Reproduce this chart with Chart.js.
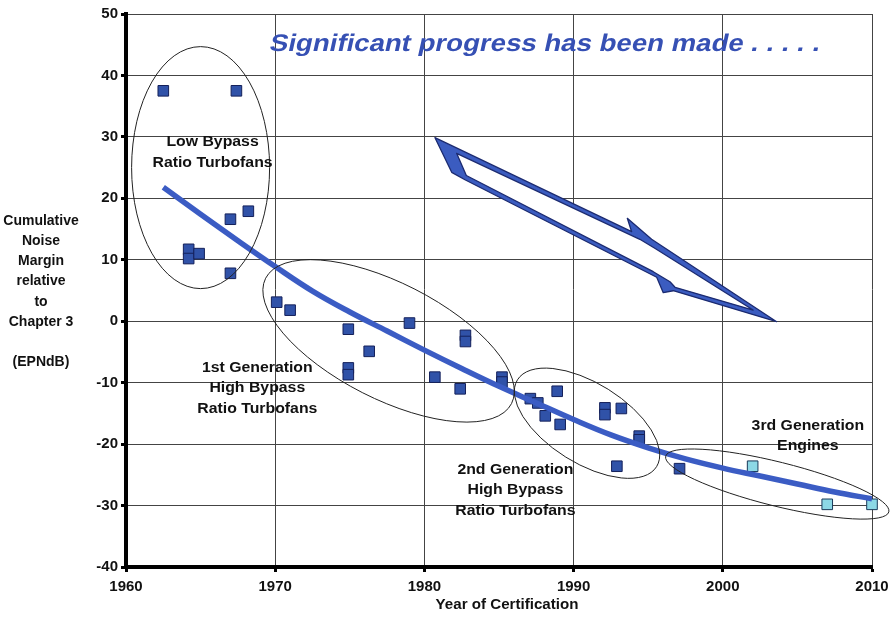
<!DOCTYPE html>
<html>
<head>
<meta charset="utf-8">
<script src="https://cdn.jsdelivr.net/npm/chart.js@4.4.1/dist/chart.umd.min.js"></script>
<style>
  html, body { margin: 0; padding: 0; background: #fff; }
  canvas { display: block; }
</style>
</head>
<body>
<canvas id="noiseChart" width="890" height="625"></canvas>
<script>
// certified engines, year vs cumulative margin (EPNdB)
const engineYears = [1962.5, 1967.4, 1967.0, 1968.2, 1964.2, 1964.2, 1964.9, 1967.0, 1970.1, 1971.0,
    1974.9, 1974.9, 1974.9, 1976.3, 1979.0, 1980.7, 1982.4, 1982.75, 1982.75, 1985.2, 1985.2,
    1987.1, 1987.6, 1988.1, 1988.9, 1989.1, 1992.1, 1992.1, 1993.2, 1994.4, 1994.4, 1992.9, 1997.1];
const engineMargins = [37.5, 37.5, 16.6, 17.9, 11.7, 10.2, 11.0, 7.8, 3.1, 1.8,
    -1.3, -7.6, -8.7, -4.9, -0.3, -9.1, -11.0, -2.3, -3.3, -9.1, -9.9,
    -12.6, -13.3, -15.4, -11.4, -16.8, -14.1, -15.2, -14.2, -18.7, -19.3, -23.6, -24.0];

// 3rd generation engines (light squares)
const newYears = [2002.0, 2007.0, 2010.0];
const newMargins = [-23.6, -29.8, -29.8];

// trend curve
const trendYears = [1962.5, 1965, 1967.5, 1970, 1972.5, 1975, 1977.5, 1980, 1982.5, 1985,
    1987.5, 1990, 1992.5, 1995, 1997.5, 2000, 2002.5, 2005, 2007.5, 2010];
const trendMargins = [21.8, 17.4, 13.1, 8.9, 4.9, 1.5, -1.6, -4.7, -7.7, -10.6,
    -13.3, -16.0, -18.5, -20.6, -22.4, -23.9, -25.2, -26.5, -27.8, -28.9];

const xTicks = [1960, 1970, 1980, 1990, 2000, 2010];
const yTicks = [-40, -30, -20, -10, 0, 10, 20, 30, 40, 50];

const yTitleLines = ["Cumulative", "Noise", "Margin", "relative", "to", "Chapter 3", "", "(EPNdB)"];
const xTitle = "Year of Certification";
const headline = "Significant progress has been made . . . . .";

const groupLabels = [
    { lines: ["Low Bypass", "Ratio Turbofans"], x: 1965.8, y: 27.4 },
    { lines: ["1st Generation", "High Bypass", "Ratio Turbofans"], x: 1968.8, y: -10.9 },
    { lines: ["2nd Generation", "High Bypass", "Ratio Turbofans"], x: 1986.1, y: -27.5 },
    { lines: ["3rd Generation", "Engines"], x: 2005.7, y: -18.7 }
];

// ellipses round each group: centre in data units, radii in px, rotation in degrees
const groupRings = [
    { x: 1965.0, y: 25.0, rx: 69, ry: 121, rot: 0 },
    { x: 1977.6, y: -3.2, rx: 138, ry: 58, rot: 27 },
    { x: 1990.9, y: -16.6, rx: 82, ry: 40, rot: 32 },
    { x: 2003.65, y: -26.5, rx: 115, ry: 22, rot: 14 }
];

// zigzag arrow outline (data units)
const arrowOuter = [[1980.71, 29.87], [1993.89, 14.57], [1993.60, 16.75], [1995.23, 13.33], [2003.61, -0.08],
    [1996.68, 4.96], [1996.01, 4.64], [1995.57, 7.15], [1982.72, 23.03], [1981.83, 24.23]];
const arrowInner = [[1982.16, 27.33], [1994.44, 13.33], [1995.44, 11.87], [2002.03, 1.82],
    [1996.80, 5.52], [1996.46, 6.43], [1995.34, 8.06], [1982.81, 23.71]];

function stretchText(ctx, s, x, y, font, color, sx, skew) {
    ctx.save();
    ctx.font = font;
    ctx.fillStyle = color;
    ctx.textAlign = "center";
    ctx.textBaseline = "middle";
    ctx.translate(x, y);
    ctx.transform(sx, 0, skew || 0, 1, 0, 0);
    ctx.fillText(s, 0, 0);
    ctx.restore();
}

function tracePath(ctx, pts, px, py) {
    ctx.beginPath();
    pts.forEach((p, i) => i ? ctx.lineTo(px(p[0]), py(p[1])) : ctx.moveTo(px(p[0]), py(p[1])));
    ctx.closePath();
}

const decorations = {
    id: "decorations",
    afterDatasetsDraw(chart) {
        const ctx = chart.ctx;
        const xs = chart.scales.x, ys = chart.scales.y;
        const px = v => xs.getPixelForValue(v);
        const py = v => ys.getPixelForValue(v);

        // ellipses
        ctx.save();
        ctx.strokeStyle = "#222";
        ctx.lineWidth = 1;
        groupRings.forEach(r => {
            ctx.beginPath();
            ctx.ellipse(px(r.x), py(r.y), r.rx, r.ry, r.rot * Math.PI / 180, 0, Math.PI * 2);
            ctx.stroke();
        });
        ctx.restore();

        // arrow
        ctx.save();
        ctx.lineJoin = "round";
        ctx.strokeStyle = "#1b2a70";
        ctx.lineWidth = 1.3;
        tracePath(ctx, arrowOuter, px, py);
        ctx.fillStyle = "#3b5cc0";
        ctx.fill();
        ctx.stroke();
        tracePath(ctx, arrowInner, px, py);
        ctx.fillStyle = "#fff";
        ctx.fill();
        ctx.stroke();
        ctx.restore();

        // group labels
        groupLabels.forEach(g => {
            const n = g.lines.length;
            g.lines.forEach((s, i) => {
                stretchText(ctx, s, px(g.x), py(g.y) + (i - (n - 1) / 2) * 20.5,
                    "bold 14px 'Liberation Sans', Arial, sans-serif", "#111", 1.13);
            });
        });

        // headline (slanted)
        stretchText(ctx, headline, px(1988.1), py(45.1),
            "bold 24px 'Liberation Sans', Arial, sans-serif", "#3650b4", 1.15, -0.22);

        // axis titles
        const area = chart.chartArea;
        yTitleLines.forEach((s, i) => {
            if (s) stretchText(ctx, s, 41, 221 + i * 20.2,
                "bold 14px 'Liberation Sans Narrow', 'Liberation Sans', Arial, sans-serif", "#111", 1.0);
        });
        stretchText(ctx, xTitle, (area.left + area.right) / 2 + 8, 605,
            "bold 14px 'Liberation Sans', Arial, sans-serif", "#111", 1.08);
    }
};

new Chart(document.getElementById("noiseChart"), {
    type: "scatter",
    data: {
        datasets: [
            {
                type: "line",
                label: "Trend",
                data: trendYears.map((x, i) => ({ x: x, y: trendMargins[i] })),
                borderColor: "#3b5cc4",
                borderWidth: 5.5,
                pointRadius: 0,
                tension: 0.4,
                fill: false
            },
            {
                label: "Engines",
                data: engineYears.map((x, i) => ({ x: x, y: engineMargins[i] })),
                pointStyle: "rect",
                pointRadius: 7.5,
                backgroundColor: "#3052a8",
                borderColor: "#14205a",
                borderWidth: 1,
                clip: false
            },
            {
                label: "3rd Generation",
                data: newYears.map((x, i) => ({ x: x, y: newMargins[i] })),
                pointStyle: "rect",
                pointRadius: 7.5,
                backgroundColor: "#8cd8e6",
                borderColor: "#1a3a5a",
                borderWidth: 1,
                clip: false
            }
        ]
    },
    options: {
        responsive: false,
        animation: false,
        layout: { padding: { left: 0, right: 18, top: 14, bottom: 0 } },
        plugins: { legend: { display: false }, tooltip: { enabled: false } },
        scales: {
            x: {
                type: "linear",
                min: xTicks[0],
                max: xTicks[xTicks.length - 1],
                afterBuildTicks: s => { s.ticks = xTicks.map(v => ({ value: v })); },
                afterFit: s => { s.height = 58; s.paddingLeft = 0; s.paddingRight = 0; },
                grid: { color: "#444", lineWidth: 1, tickLength: 5, tickColor: "#000", tickWidth: 3 },
                border: { color: "#000", width: 4 },
                ticks: {
                    padding: 6,
                    color: "#111",
                    font: { family: "'Liberation Sans', Arial, sans-serif", size: 15, weight: "bold" },
                    callback: v => String(v),
                    maxRotation: 0
                }
            },
            y: {
                min: yTicks[0],
                max: yTicks[yTicks.length - 1],
                afterBuildTicks: s => { s.ticks = yTicks.map(v => ({ value: v })); },
                afterFit: s => { s.width = 126; },
                grid: { color: "#444", lineWidth: 1, tickLength: 5, tickColor: "#000", tickWidth: 3 },
                border: { color: "#000", width: 4 },
                ticks: {
                    padding: 3,
                    color: "#111",
                    font: { family: "'Liberation Sans', Arial, sans-serif", size: 15, weight: "bold" },
                    callback: v => String(v)
                }
            }
        }
    },
    plugins: [decorations]
});
</script>
</body>
</html>
